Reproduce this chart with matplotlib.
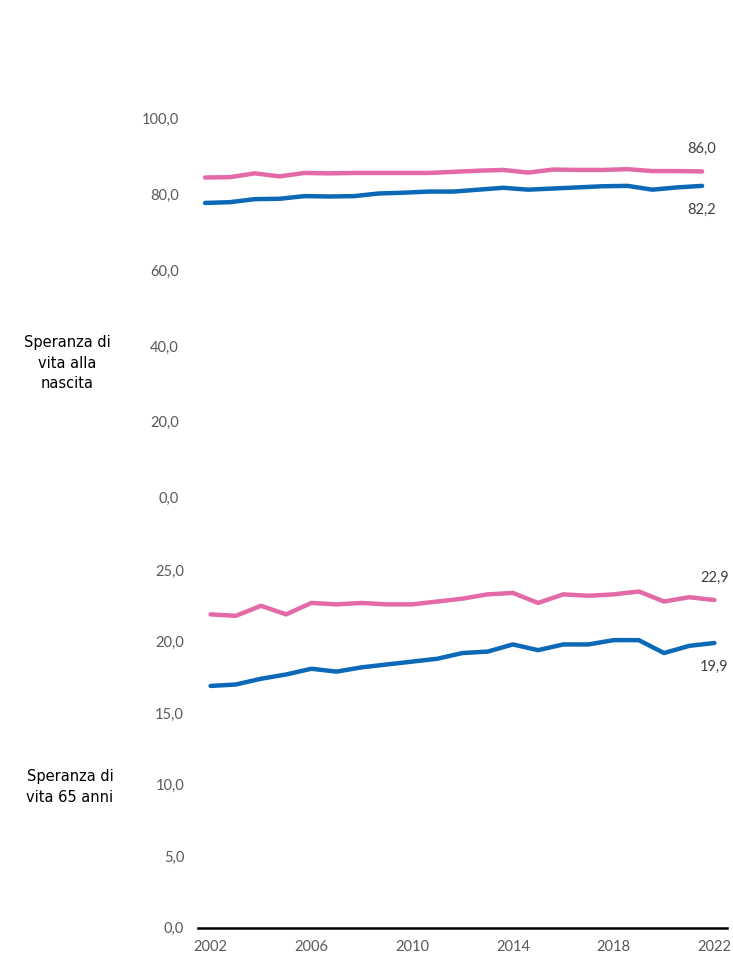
import matplotlib.pyplot as plt

# Speranza di vita per sesso, 2002-2022
anni = list(range(2002, 2023))

# alla nascita
nascita_donne = [84.4, 84.5, 85.5, 84.7, 85.6, 85.5, 85.6, 85.6, 85.6, 85.6, 85.9,
                 86.2, 86.4, 85.7, 86.5, 86.4, 86.4, 86.6, 86.1, 86.1, 86.0]
nascita_uomini = [77.7, 77.9, 78.7, 78.8, 79.5, 79.4, 79.5, 80.2, 80.4, 80.7, 80.7,
                  81.2, 81.7, 81.2, 81.5, 81.8, 82.1, 82.2, 81.2, 81.8, 82.2]

# a 65 anni
anni65_donne = [21.9, 21.8, 22.5, 21.9, 22.7, 22.6, 22.7, 22.6, 22.6, 22.8, 23.0,
                23.3, 23.4, 22.7, 23.3, 23.2, 23.3, 23.5, 22.8, 23.1, 22.9]
anni65_uomini = [16.9, 17.0, 17.4, 17.7, 18.1, 17.9, 18.2, 18.4, 18.6, 18.8, 19.2,
                 19.3, 19.8, 19.4, 19.8, 19.8, 20.1, 20.1, 19.2, 19.7, 19.9]

anni_tick = [2002, 2006, 2010, 2014, 2018, 2022]

ROSA = '#E46AA7'
BLU = '#0B69B7'
GRIGIO = '#595959'

fig = plt.figure(figsize=(7.33, 9.59), dpi=100)
ax_top = fig.add_axes([0.2628, 0.4810, 0.7120, 0.3956])
ax_bot = fig.add_axes([0.2701, 0.0326, 0.7217, 0.3730])


def fmt(v):
    return f"{v:.1f}".replace('.', ',')


def stile(ax, ymax, step):
    ax.set_xlim(2001.5, 2022.5)
    ax.set_ylim(0, ymax)
    ax.set_yticks([i * step for i in range(int(ymax / step) + 1)])
    ax.set_yticklabels([fmt(i * step) for i in range(int(ymax / step) + 1)],
                       fontsize=10.5, color=GRIGIO, family='Lato')
    ax.tick_params(axis='y', length=0, pad=10)
    for s in ax.spines.values():
        s.set_visible(False)
    ax.patch.set_visible(False)


def disegna(ax, donne, uomini):
    ax.plot(anni, donne, color=ROSA, lw=3.2, solid_capstyle='round')
    ax.plot(anni, uomini, color=BLU, lw=3.2, solid_capstyle='round')
    ax.annotate(fmt(donne[-1]), (anni[-1], donne[-1]), xytext=(0, 16),
                textcoords='offset points', ha='center', va='center',
                fontsize=10.5, color='#404040', family='Lato')
    ax.annotate(fmt(uomini[-1]), (anni[-1], uomini[-1]), xytext=(0, -17),
                textcoords='offset points', ha='center', va='center',
                fontsize=10.5, color='#404040', family='Lato')


stile(ax_top, 100, 20)
disegna(ax_top, nascita_donne, nascita_uomini)
ax_top.set_xticks([])

stile(ax_bot, 25, 5)
disegna(ax_bot, anni65_donne, anni65_uomini)
ax_bot.spines['bottom'].set_visible(True)
ax_bot.spines['bottom'].set_linewidth(1.8)
ax_bot.spines['bottom'].set_color('black')
ax_bot.set_xticks(anni_tick)
ax_bot.set_xticklabels([str(a) for a in anni_tick], fontsize=10.5, color=GRIGIO,
                       family='Lato')
ax_bot.tick_params(axis='x', length=0, pad=9)

# etichette dei due pannelli
fig.text(67 / 733, 1 - 363 / 959, "Speranza di\nvita alla\nnascita", ha='center',
         va='center', fontsize=10.5, linespacing=1.5, color='black')
fig.text(70 / 733, 1 - 787 / 959, "Speranza di\nvita 65 anni", ha='center',
         va='center', fontsize=10.5, linespacing=1.5, color='black')

fig.savefig('out.png', dpi=100)
